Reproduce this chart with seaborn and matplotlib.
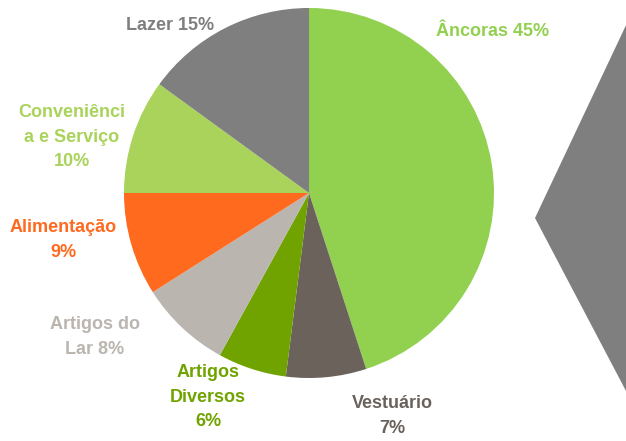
import matplotlib
matplotlib.use("Agg")
import matplotlib.pyplot as plt
import seaborn as sns
from matplotlib.patches import Polygon

# data
categories = ["Âncoras", "Vestuário", "Artigos\nDiversos", "Artigos do\nLar",
              "Alimentação", "Conveniênci\na e Serviço", "Lazer"]
shares = [45, 7, 6, 8, 9, 10, 15]
label_text = ["Âncoras 45%", "Vestuário\n7%", "Artigos\nDiversos\n6%", "Artigos do\nLar 8%",
              "Alimentação\n9%", "Conveniênci\na e Serviço\n10%", "Lazer 15%"]
slice_colors = ["#92d050", "#6b625c", "#70a300", "#bbb5af", "#ff6a1f", "#a9d35a", "#7f7f7f"]

# label centres in pixels (x, y from top)
label_pos = [(493, 31), (392, 416), (208, 397), (95, 337), (63, 240), (72, 137), (170, 25)]

W, H = 626, 441
sns.set_theme(style="white")
plt.rcParams["font.family"] = ["Liberation Sans", "DejaVu Sans"]

fig = plt.figure(figsize=(W / 100, H / 100), dpi=100)
ax = fig.add_axes([0, 0, 1, 1])

ax.pie(shares, colors=slice_colors, startangle=90, counterclock=False,
       center=(309, H - 193), radius=185, wedgeprops=dict(linewidth=0))
ax.set_xlim(0, W)
ax.set_ylim(0, H)
ax.set_aspect("equal")
ax.axis("off")

# grey chevron on the right
ax.add_patch(Polygon([(W + 10, H - 4), (535, H - 218), (W + 10, H - 410)],
                     closed=True, facecolor="#7f7f7f", edgecolor="none"))

for txt, (x, y), c in zip(label_text, label_pos, slice_colors):
    ax.text(x, H - y, txt, color=c, fontsize=13, fontweight="bold",
            ha="center", va="center", linespacing=1.55)

fig.savefig("out.png", dpi=100)
